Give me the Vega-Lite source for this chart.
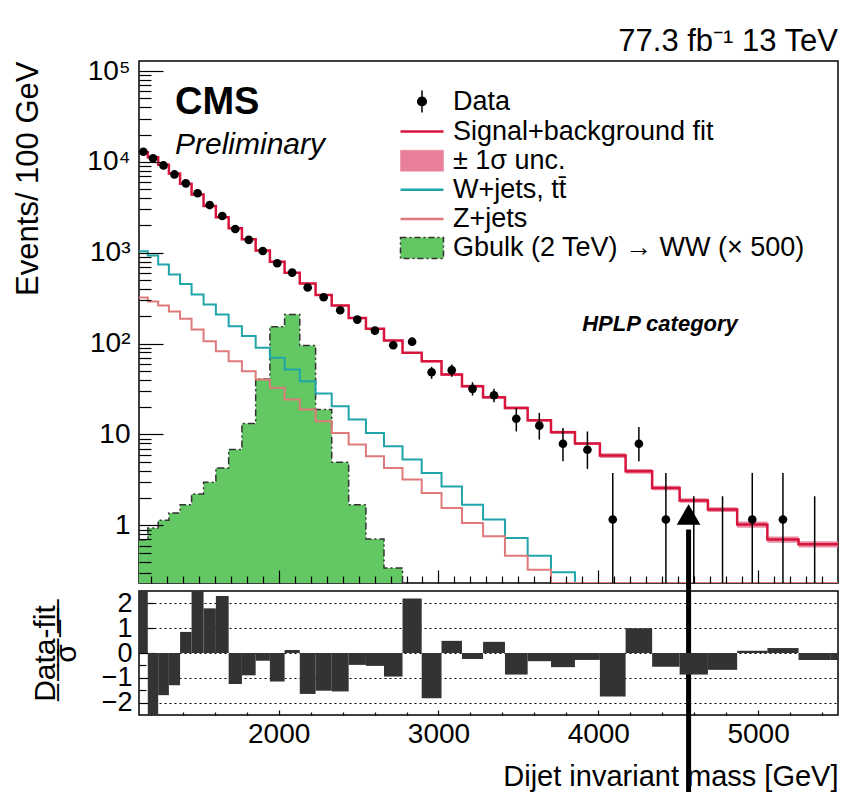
{
  "$schema": "https://vega.github.io/schema/vega-lite/v6.json",
  "background": "white",
  "padding": {"left": 12, "top": 25, "right": 0, "bottom": 0},
  "config": {
    "font": "Liberation Sans",
    "view": {"stroke": "black", "strokeWidth": 1.5},
    "axis": {"labelFont": "Liberation Sans", "titleFont": "Liberation Sans", "labelColor": "black", "titleColor": "black", "tickColor": "black", "tickWidth": 1.2, "domain": false, "grid": false, "labelFontSize": 28, "titleFontWeight": "normal", "labelOverlap": false, "labelFlush": false, "labelBound": false}
  },
  "datasets": {
    "sig": [
      {"m": 1126, "v": 0.696}, {"m": 1181, "v": 0.936}, {"m": 1246, "v": 1.135}, {"m": 1313, "v": 1.369},
      {"m": 1383, "v": 1.69}, {"m": 1455, "v": 2.218}, {"m": 1530, "v": 2.976}, {"m": 1607, "v": 4.288},
      {"m": 1687, "v": 6.82}, {"m": 1770, "v": 13.2}, {"m": 1856, "v": 40.9}, {"m": 1945, "v": 153},
      {"m": 2037, "v": 209}, {"m": 2132, "v": 95.3}, {"m": 2231, "v": 18.8}, {"m": 2332, "v": 4.94},
      {"m": 2438, "v": 1.69}, {"m": 2546, "v": 0.708}, {"m": 2659, "v": 0.34}, {"m": 2775, "v": 0.232}
    ],
    "wj": [
      {"m": 1126, "v": 1041}, {"m": 1181, "v": 934}, {"m": 1246, "v": 743}, {"m": 1313, "v": 577},
      {"m": 1383, "v": 453}, {"m": 1455, "v": 347}, {"m": 1530, "v": 270}, {"m": 1607, "v": 209},
      {"m": 1687, "v": 155}, {"m": 1770, "v": 121}, {"m": 1856, "v": 89.9}, {"m": 1945, "v": 69.7},
      {"m": 2037, "v": 51.9}, {"m": 2132, "v": 38.5}, {"m": 2231, "v": 28.2}, {"m": 2332, "v": 20.4},
      {"m": 2438, "v": 14.6}, {"m": 2546, "v": 10.4}, {"m": 2659, "v": 7.41}, {"m": 2775, "v": 5.29},
      {"m": 2895, "v": 3.78}, {"m": 3019, "v": 2.67}, {"m": 3147, "v": 1.69}, {"m": 3279, "v": 1.16},
      {"m": 3416, "v": 0.727}, {"m": 3558, "v": 0.464}, {"m": 3704, "v": 0.304}, {"m": 3854, "v": 0.232},
      {"m": 5500, "v": 0.232}
    ],
    "zj": [
      {"m": 1126, "v": 322}, {"m": 1181, "v": 291}, {"m": 1246, "v": 263}, {"m": 1313, "v": 226},
      {"m": 1383, "v": 188}, {"m": 1455, "v": 143}, {"m": 1530, "v": 106}, {"m": 1607, "v": 82.5},
      {"m": 1687, "v": 64.0}, {"m": 1770, "v": 49.7}, {"m": 1856, "v": 40.2}, {"m": 1945, "v": 32.6},
      {"m": 2037, "v": 24.2}, {"m": 2132, "v": 18.8}, {"m": 2231, "v": 14.0}, {"m": 2332, "v": 10.4},
      {"m": 2438, "v": 7.74}, {"m": 2546, "v": 5.75}, {"m": 2659, "v": 4.29}, {"m": 2775, "v": 3.19},
      {"m": 2895, "v": 2.27}, {"m": 3019, "v": 1.55}, {"m": 3147, "v": 1.06}, {"m": 3279, "v": 0.757},
      {"m": 3416, "v": 0.464}, {"m": 3558, "v": 0.325}, {"m": 3704, "v": 0.232}, {"m": 5500, "v": 0.232}
    ],
    "fit": [
      {"m": 1126, "v": 12740, "lo": 12485, "hi": 12995}, {"m": 1181, "v": 11220, "lo": 10996, "hi": 11444},
      {"m": 1246, "v": 9333, "lo": 9146, "hi": 9520}, {"m": 1313, "v": 7447, "lo": 7298, "hi": 7596},
      {"m": 1383, "v": 5754, "lo": 5639, "hi": 5869}, {"m": 1455, "v": 4365, "lo": 4278, "hi": 4452},
      {"m": 1530, "v": 3273, "lo": 3208, "hi": 3338}, {"m": 1607, "v": 2455, "lo": 2406, "hi": 2504},
      {"m": 1687, "v": 1862, "lo": 1825, "hi": 1899}, {"m": 1770, "v": 1413, "lo": 1385, "hi": 1441},
      {"m": 1856, "v": 1059, "lo": 1038, "hi": 1080}, {"m": 1945, "v": 794, "lo": 778, "hi": 810},
      {"m": 2037, "v": 603, "lo": 591, "hi": 615}, {"m": 2132, "v": 459, "lo": 450, "hi": 468},
      {"m": 2231, "v": 344, "lo": 337, "hi": 351}, {"m": 2332, "v": 263, "lo": 258, "hi": 268},
      {"m": 2438, "v": 192, "lo": 188, "hi": 196}, {"m": 2546, "v": 146, "lo": 143, "hi": 149},
      {"m": 2659, "v": 108, "lo": 106, "hi": 110}, {"m": 2775, "v": 79.3, "lo": 77.7, "hi": 80.9},
      {"m": 2895, "v": 64.0, "lo": 61.8, "hi": 66.2}, {"m": 3019, "v": 45.7, "lo": 44.1, "hi": 47.3},
      {"m": 3147, "v": 34.0, "lo": 32.8, "hi": 35.2}, {"m": 3279, "v": 25.7, "lo": 24.8, "hi": 26.6},
      {"m": 3416, "v": 19.6, "lo": 18.9, "hi": 20.3}, {"m": 3558, "v": 14.3, "lo": 13.8, "hi": 14.8},
      {"m": 3704, "v": 10.6, "lo": 10.2, "hi": 11.0}, {"m": 3854, "v": 7.94, "lo": 7.66, "hi": 8.22},
      {"m": 4010, "v": 5.86, "lo": 5.51, "hi": 6.21}, {"m": 4171, "v": 3.94, "lo": 3.70, "hi": 4.18},
      {"m": 4337, "v": 2.58, "lo": 2.43, "hi": 2.73}, {"m": 4509, "v": 1.88, "lo": 1.77, "hi": 1.99},
      {"m": 4686, "v": 1.49, "lo": 1.40, "hi": 1.58}, {"m": 4869, "v": 1.02, "lo": 0.94, "hi": 1.10},
      {"m": 5058, "v": 0.70, "lo": 0.644, "hi": 0.756}, {"m": 5253, "v": 0.62, "lo": 0.57, "hi": 0.67},
      {"m": 5500, "v": 0.62, "lo": 0.57, "hi": 0.67}
    ],
    "pts": [
      {"s": "Data", "m": 1153.5, "v": 12940, "lo": 12790, "hi": 13090},
      {"s": "Data", "m": 1213.5, "v": 10965, "lo": 10830, "hi": 11100},
      {"s": "Data", "m": 1279.5, "v": 9141, "lo": 9020, "hi": 9260},
      {"s": "Data", "m": 1348, "v": 7278, "lo": 7180, "hi": 7380},
      {"s": "Data", "m": 1419, "v": 5808, "lo": 5720, "hi": 5900},
      {"s": "Data", "m": 1492.5, "v": 4519, "lo": 4440, "hi": 4600},
      {"s": "Data", "m": 1568.5, "v": 3350, "lo": 3280, "hi": 3420},
      {"s": "Data", "m": 1647, "v": 2541, "lo": 2485, "hi": 2600},
      {"s": "Data", "m": 1728.5, "v": 1828, "lo": 1780, "hi": 1876},
      {"s": "Data", "m": 1813, "v": 1387, "lo": 1347, "hi": 1427},
      {"s": "Data", "m": 1900.5, "v": 1047, "lo": 1013, "hi": 1081},
      {"s": "Data", "m": 1991, "v": 767, "lo": 738, "hi": 796},
      {"s": "Data", "m": 2084.5, "v": 605, "lo": 580, "hi": 630},
      {"s": "Data", "m": 2181.5, "v": 415, "lo": 395, "hi": 435},
      {"s": "Data", "m": 2281.5, "v": 324, "lo": 306, "hi": 342},
      {"s": "Data", "m": 2385, "v": 233, "lo": 218, "hi": 248},
      {"s": "Data", "m": 2492, "v": 184, "lo": 171, "hi": 197},
      {"s": "Data", "m": 2602.5, "v": 139, "lo": 128, "hi": 150},
      {"s": "Data", "m": 2717, "v": 96, "lo": 87, "hi": 105},
      {"s": "Data", "m": 2835, "v": 105, "lo": 95.6, "hi": 114},
      {"s": "Data", "m": 2957, "v": 48.4, "lo": 41.0, "hi": 55.5},
      {"s": "Data", "m": 3083, "v": 51, "lo": 43.1, "hi": 58.9},
      {"s": "Data", "m": 3213, "v": 31.8, "lo": 26.8, "hi": 37.6},
      {"s": "Data", "m": 3347.5, "v": 27.0, "lo": 22.6, "hi": 31.8},
      {"s": "Data", "m": 3487, "v": 14.9, "lo": 10.8, "hi": 19.6},
      {"s": "Data", "m": 3631, "v": 12.5, "lo": 8.79, "hi": 17.3},
      {"s": "Data", "m": 3779, "v": 7.9, "lo": 5.07, "hi": 11.8},
      {"s": "Data", "m": 3932, "v": 6.8, "lo": 4.18, "hi": 10.8},
      {"s": "Data", "m": 4090.5, "v": 1.16, "lo": 0.2, "hi": 3.78},
      {"s": "Data", "m": 4254, "v": 7.9, "lo": 5.07, "hi": 12.1},
      {"s": "Data", "m": 4423, "v": 1.16, "lo": 0.2, "hi": 3.78},
      {"s": "Data", "m": 4597.5, "v": null, "lo": 0.1, "hi": 2.09},
      {"s": "Data", "m": 4777.5, "v": null, "lo": 0.1, "hi": 2.09},
      {"s": "Data", "m": 4963.5, "v": 1.16, "lo": 0.2, "hi": 3.78},
      {"s": "Data", "m": 5155.5, "v": 1.16, "lo": 0.2, "hi": 3.78},
      {"s": "Data", "m": 5354, "v": null, "lo": 0.1, "hi": 2.09}
    ],
    "res": [
      {"lo": 1126, "hi": 1181, "r": 2.8}, {"lo": 1181, "hi": 1246, "r": -2.8}, {"lo": 1246, "hi": 1313, "r": -1.7},
      {"lo": 1313, "hi": 1383, "r": -1.3}, {"lo": 1383, "hi": 1455, "r": 0.85}, {"lo": 1455, "hi": 1530, "r": 2.7},
      {"lo": 1530, "hi": 1607, "r": 1.8}, {"lo": 1607, "hi": 1687, "r": 2.3}, {"lo": 1687, "hi": 1770, "r": -1.25},
      {"lo": 1770, "hi": 1856, "r": -0.9}, {"lo": 1856, "hi": 1945, "r": -0.31}, {"lo": 1945, "hi": 2037, "r": -1.15},
      {"lo": 2037, "hi": 2132, "r": 0.12}, {"lo": 2132, "hi": 2231, "r": -1.65}, {"lo": 2231, "hi": 2332, "r": -1.52},
      {"lo": 2332, "hi": 2438, "r": -1.55}, {"lo": 2438, "hi": 2546, "r": -0.48}, {"lo": 2546, "hi": 2659, "r": -0.52},
      {"lo": 2659, "hi": 2775, "r": -0.95}, {"lo": 2775, "hi": 2895, "r": 2.2}, {"lo": 2895, "hi": 3019, "r": -1.82},
      {"lo": 3019, "hi": 3147, "r": 0.49}, {"lo": 3147, "hi": 3279, "r": -0.24}, {"lo": 3279, "hi": 3416, "r": 0.45},
      {"lo": 3416, "hi": 3558, "r": -0.87}, {"lo": 3558, "hi": 3704, "r": -0.33}, {"lo": 3704, "hi": 3854, "r": -0.57},
      {"lo": 3854, "hi": 4010, "r": -0.28}, {"lo": 4010, "hi": 4171, "r": -1.75}, {"lo": 4171, "hi": 4337, "r": 1.0},
      {"lo": 4337, "hi": 4509, "r": -0.55}, {"lo": 4509, "hi": 4686, "r": -0.87}, {"lo": 4686, "hi": 4869, "r": -0.68},
      {"lo": 4869, "hi": 5058, "r": 0.09}, {"lo": 5058, "hi": 5253, "r": 0.2}, {"lo": 5253, "hi": 5455, "r": -0.28},
      {"lo": 5455, "hi": 5663, "r": -0.28}
    ],
    "notes": [{"t": "CMS"}],
    "notes2": [{"t": "Preliminary"}],
    "notes3": [{"t": "HPLP category"}],
    "marker": [{"mass": 4565}]
  },
  "spacing": 8,
  "bounds": "flush",
  "resolve": {"scale": {"x": "independent", "y": "independent", "color": "independent"}, "legend": {"color": "independent"}},
  "vconcat": [
    {
      "width": 699,
      "height": 522,
      "title": {"text": "77.3 fb⁻¹ 13 TeV", "anchor": "end", "frame": "group", "fontSize": 31, "fontWeight": "normal", "font": "Liberation Sans", "color": "black", "offset": -1},
      "resolve": {"axis": {"x": "independent", "y": "independent"}},
      "layer": [
        {
          "data": {"name": "sig"},
          "mark": {"type": "area", "interpolate": "step-after", "color": "#63c763", "clip": true},
          "encoding": {
            "x": {"field": "m", "type": "quantitative", "scale": {"domain": [1126, 5500], "nice": false, "zero": false},
              "axis": {"title": null, "labels": false, "zindex": 1, "values": [1200,1300,1400,1500,1600,1700,1800,1900,2000,2100,2200,2300,2400,2500,2600,2700,2800,2900,3000,3100,3200,3300,3400,3500,3600,3700,3800,3900,4000,4100,4200,4300,4400,4500,4600,4700,4800,4900,5000,5100,5200,5300,5400],
                "tickSize": {"condition": {"test": "datum.value % 1000 === 0", "value": -13}, "value": -7}}},
            "y": {"field": "v", "type": "quantitative", "scale": {"type": "log", "domain": [0.232, 129000], "nice": false},
              "axis": {"title": "Events/ 100 GeV", "titleFontSize": 31, "titleAnchor": "end", "titlePadding": 42, "zindex": 1,
                "values": [0.3,0.4,0.5,0.6,0.7,0.8,0.9,1,2,3,4,5,6,7,8,9,10,20,30,40,50,60,70,80,90,100,200,300,400,500,600,700,800,900,1000,2000,3000,4000,5000,6000,7000,8000,9000,10000,20000,30000,40000,50000,60000,70000,80000,90000,100000],
                "labelPadding": 33,
                "labelExpr": "abs(log(datum.value)/LN10 - round(log(datum.value)/LN10)) > 0.001 ? '' : round(log(datum.value)/LN10) == 0 ? '1' : round(log(datum.value)/LN10) == 1 ? '10' : round(log(datum.value)/LN10) == 2 ? '10²' : round(log(datum.value)/LN10) == 3 ? '10³' : round(log(datum.value)/LN10) == 4 ? '10⁴' : '10⁵'",
                "tickSize": {"condition": {"test": "abs(log(datum.value)/LN10 - round(log(datum.value)/LN10)) < 0.001", "value": -24}, "value": -12}}},
            "y2": {"datum": 0.232}
          }
        },
        {
          "data": {"name": "sig"},
          "mark": {"type": "line", "interpolate": "step-after", "color": "#333333", "strokeWidth": 1.5, "strokeDash": [7, 3, 2, 3], "clip": true},
          "encoding": {"x": {"field": "m", "type": "quantitative", "axis": null}, "y": {"field": "v", "type": "quantitative", "axis": null}}
        },
        {
          "data": {"name": "wj"},
          "mark": {"type": "line", "interpolate": "step-after", "color": "#1fa5aa", "strokeWidth": 2, "clip": true},
          "encoding": {"x": {"field": "m", "type": "quantitative", "axis": null}, "y": {"field": "v", "type": "quantitative", "axis": null}}
        },
        {
          "data": {"name": "zj"},
          "mark": {"type": "line", "interpolate": "step-after", "color": "#e07a7a", "strokeWidth": 2, "clip": true},
          "encoding": {"x": {"field": "m", "type": "quantitative", "axis": null}, "y": {"field": "v", "type": "quantitative", "axis": null}}
        },
        {
          "data": {"name": "fit"},
          "mark": {"type": "area", "interpolate": "step-after", "color": "#e8809a", "opacity": 0.9, "clip": true},
          "encoding": {"x": {"field": "m", "type": "quantitative", "axis": null}, "y": {"field": "lo", "type": "quantitative", "axis": null}, "y2": {"field": "hi"}}
        },
        {
          "data": {"name": "fit"},
          "mark": {"type": "line", "interpolate": "step-after", "color": "#d7143c", "strokeWidth": 2.5, "clip": true},
          "encoding": {"x": {"field": "m", "type": "quantitative", "axis": null}, "y": {"field": "v", "type": "quantitative", "axis": null}}
        },
        {
          "data": {"name": "pts"},
          "mark": {"type": "rule", "color": "black", "strokeWidth": 1.5, "clip": true},
          "encoding": {"x": {"field": "m", "type": "quantitative", "axis": null}, "y": {"field": "lo", "type": "quantitative", "axis": null}, "y2": {"field": "hi"}}
        },
        {
          "data": {"name": "pts"},
          "mark": {"type": "circle", "size": 75, "opacity": 1, "clip": true},
          "encoding": {
            "x": {"field": "m", "type": "quantitative", "axis": null},
            "y": {"field": "v", "type": "quantitative", "axis": null},
            "color": {"field": "s", "type": "nominal",
              "scale": {"domain": ["Data", "Signal+background fit", "± 1σ unc.", "W+jets, tt̄", "Z+jets", "Gbulk (2 TeV) → WW (× 500)"],
                "range": ["black", "#d7143c", "#e8809a", "#1fa5aa", "#e07a7a", "#63c763"]},
              "legend": {"orient": "none", "legendX": 269.5, "legendY": 27, "title": null, "padding": 0,
                "symbolSize": 400, "labelFontSize": 27, "labelFont": "Liberation Sans", "labelColor": "black",
                "labelOffset": 17.5, "rowPadding": 1.1, "labelLimit": 500, "symbolOpacity": 1,
                "symbolType": {"expr": "datum.value == 'Data' ? 'M0,-1.1L0,1.1M-0.43,0A0.43,0.43 0 1,0 0.43,0A0.43,0.43 0 1,0 -0.43,0Z' : (datum.value == '± 1σ unc.' || datum.value == 'Gbulk (2 TeV) → WW (× 500)') ? 'M-2.15,-1.05L2.15,-1.05L2.15,1.05L-2.15,1.05Z' : 'M-2.15,0L2.15,0'"},
                "symbolStrokeColor": {"expr": "datum.value == 'Data' ? 'black' : datum.value == 'Signal+background fit' ? '#d7143c' : datum.value == '± 1σ unc.' ? '#e8809a' : datum.value == 'Z+jets' ? '#e07a7a' : datum.value == 'Gbulk (2 TeV) → WW (× 500)' ? '#333333' : '#1fa5aa'"},
                "symbolStrokeWidth": {"expr": "datum.value == 'Data' ? 1.5 : datum.value == 'Gbulk (2 TeV) → WW (× 500)' ? 1.5 : datum.value == '± 1σ unc.' ? 0.5 : 2.5"},
                "symbolDash": {"expr": "datum.value == 'Gbulk (2 TeV) → WW (× 500)' ? [6, 3, 2, 3] : []"}
              }
            }
          }
        },
        {
          "data": {"name": "marker"},
          "mark": {"type": "rule", "color": "black", "strokeWidth": 5, "clip": false},
          "encoding": {"x": {"field": "mass", "type": "quantitative", "axis": null}, "y": {"datum": 0.9, "axis": null}, "y2": {"datum": 0.0009}}
        },
        {
          "data": {"name": "marker"},
          "mark": {"type": "point", "shape": "triangle-up", "filled": true, "color": "black", "opacity": 1, "size": 560},
          "encoding": {"x": {"field": "mass", "type": "quantitative", "axis": null}, "y": {"datum": 1.32, "axis": null}}
        },
        {
          "data": {"name": "notes"},
          "mark": {"type": "text", "font": "Liberation Sans", "fontSize": 38, "fontWeight": "bold", "align": "left", "baseline": "alphabetic", "color": "black"},
          "encoding": {"x": {"datum": 1351, "axis": null}, "y": {"datum": 33360, "axis": null}, "text": {"field": "t"}}
        },
        {
          "data": {"name": "notes2"},
          "mark": {"type": "text", "font": "Liberation Sans", "fontSize": 30, "fontStyle": "italic", "align": "left", "baseline": "alphabetic", "color": "black"},
          "encoding": {"x": {"datum": 1351, "axis": null}, "y": {"datum": 12090, "axis": null}, "text": {"field": "t"}}
        },
        {
          "data": {"name": "notes3"},
          "mark": {"type": "text", "font": "Liberation Sans", "fontSize": 22, "fontStyle": "italic", "fontWeight": "bold", "align": "center", "baseline": "alphabetic", "color": "black"},
          "encoding": {"x": {"datum": 4386, "axis": null}, "y": {"datum": 139, "axis": null}, "text": {"field": "t"}}
        }
      ]
    },
    {
      "width": 699,
      "height": 124,
      "data": {"name": "res"},
      "mark": {"type": "rect", "color": "#333333", "clip": true},
      "encoding": {
        "x": {"field": "lo", "type": "quantitative", "scale": {"domain": [1126, 5500], "nice": false, "zero": false},
          "axis": {"title": "Dijet invariant mass [GeV]", "titleFontSize": 29, "titleAnchor": "end", "titlePadding": 12,
            "values": [1200,1400,1600,1800,2000,2200,2400,2600,2800,3000,3200,3400,3600,3800,4000,4200,4400,4600,4800,5000,5200,5400],
            "format": "d", "labelExpr": "datum.value % 1000 === 0 ? datum.label : ''", "labelPadding": 10,
            "tickSize": {"condition": {"test": "datum.value % 1000 === 0", "value": -5}, "value": -3}}},
        "x2": {"field": "hi"},
        "y": {"field": "r", "type": "quantitative", "scale": {"domain": [-2.5, 2.5], "nice": false, "zero": false},
          "axis": {"title": ["D\u0332a\u0332t\u0332a\u0332-\u0332f\u0332i\u0332t\u0332", "σ"], "titleFontSize": 30, "titleLineHeight": 21, "titlePadding": 20,
            "values": [-2, -1.5, -1, -0.5, 0, 0.5, 1, 1.5, 2], "format": "~g", "labelFontSize": 27,
            "labelExpr": "datum.value % 1 === 0 ? datum.label : ''", "labelPadding": 23,
            "grid": true, "gridDash": [2, 3], "gridColor": "black", "gridWidth": 1,
            "gridOpacity": {"condition": {"test": "datum.value % 1 === 0", "value": 1}, "value": 0},
            "tickSize": {"condition": {"test": "datum.value % 1 === 0", "value": -16}, "value": -7}}},
        "y2": {"datum": 0}
      }
    }
  ]
}
